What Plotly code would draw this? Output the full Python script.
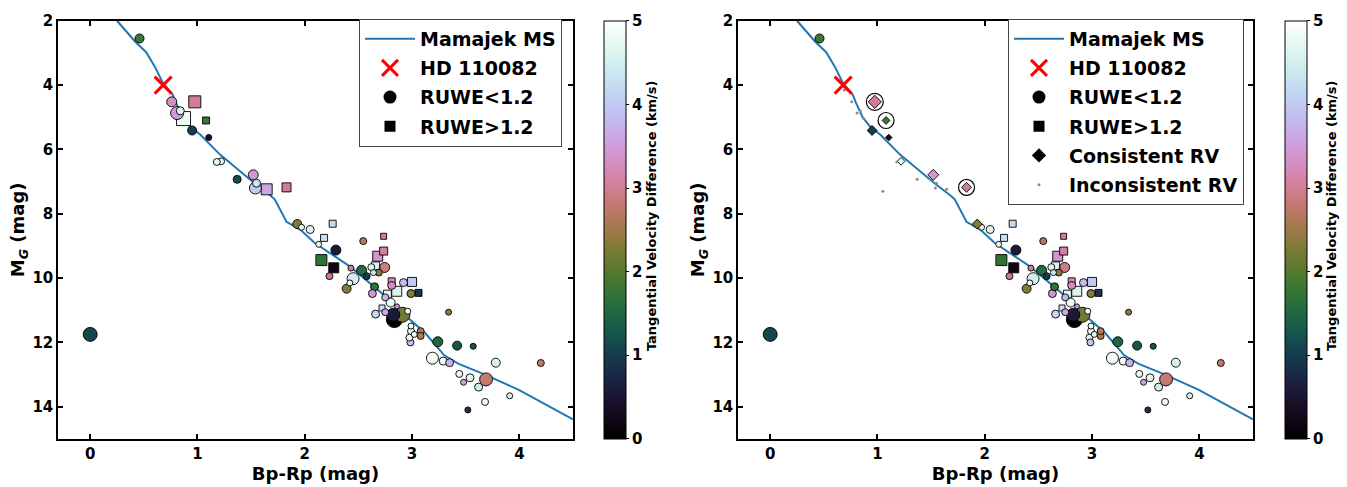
import numpy as np
import plotly.graph_objects as go

# ---------------- data ----------------
# Mamajek main sequence
ms_bp_rp = [0.25, 0.42, 0.52, 0.60, 0.68, 0.77, 0.80, 0.86, 0.93, 1.03, 1.21, 1.37, 1.52, 1.68,
            1.72, 1.83, 1.96, 2.09, 2.43, 2.74, 2.93, 3.12, 3.30, 3.43, 3.68, 3.99, 4.50]
ms_mg = [2.00, 2.65, 2.97, 3.41, 3.95, 4.30, 4.55, 4.99, 5.29, 5.55, 6.16, 6.61, 7.02, 7.43,
         7.55, 8.25, 8.50, 8.90, 9.66, 10.53, 11.14, 11.70, 12.40, 12.66, 13.00, 13.47, 14.39]

# HD 110082
hd_bp_rp = [0.68]
hd_mg = [4.00]

# comoving candidates
bp_rp = [0.46, 0.76, 0.975, 0.81, 0.84, 0.87, 1.08, 0.95, 1.105, 1.18,
         1.22, 1.37, 1.52, 1.54, 1.55, 1.645, 1.83, 1.93, 1.97, 2.05,
         2.26, 2.18, 2.13, 2.29, 2.545, 2.735, 2.68, 2.735, 2.155, 2.27,
         2.43, 2.23, 2.53, 2.577, 2.62, 2.66, 2.69, 2.64, 2.745, 2.45,
         2.42, 2.39, 2.65, 2.63, 2.81, 2.81, 2.92, 3.00, 2.77, 2.857,
         2.99, 3.06, 2.75, 2.80, 2.86, 2.72, 2.66, 2.75, 2.835, 2.825,
         2.91, 2.96, 3.34, 2.99, 2.99, 3.02, 2.975, 3.08, 3.08, 2.985,
         3.24, 3.42, 3.57, 3.19, 3.29, 3.35, 3.78, 3.44, 3.54, 3.48,
         3.69, 3.62, 3.68, 3.52, 4.20, 3.91, 0.00]
m_g = [2.55, 4.52, 4.52, 4.87, 4.80, 5.04, 5.10, 5.41, 5.63, 6.39,
       6.37, 6.93, 6.79, 7.20, 7.05, 7.24, 7.18, 8.32, 8.42, 8.49,
       8.31, 8.75, 8.95, 9.13, 8.85, 8.70, 9.32, 9.16, 9.44, 9.68,
       9.69, 9.94, 9.76, 9.94, 9.66, 9.62, 9.83, 9.83, 9.67, 10.02,
       10.15, 10.33, 10.27, 10.48, 10.10, 10.23, 10.14, 10.12, 10.50, 10.41,
       10.48, 10.46, 10.60, 10.76, 10.88, 10.93, 11.12, 11.06, 11.29, 11.14,
       11.14, 11.03, 11.06, 11.49, 11.65, 11.75, 11.85, 11.65, 11.80, 12.00,
       11.98, 12.10, 12.12, 12.49, 12.58, 12.63, 12.63, 12.98, 13.10, 13.24,
       13.15, 13.39, 13.85, 14.10, 12.64, 13.66, 11.75]
dv_tan = [1.8, 3.3, 3.0, 3.5, 4.6, 4.8, 1.8, 1.0, 0.4, 4.7,
          4.7, 1.2, 3.4, 4.0, 4.4, 3.6, 3.0, 2.3, 4.8, 4.7,
          4.2, 4.3, 4.8, 0.6, 2.7, 3.0, 3.4, 3.1, 1.7, 0.2,
          3.0, 2.9, 1.6, 1.0, 4.6, 4.6, 2.3, 4.4, 2.9, 4.5,
          4.9, 2.3, 1.7, 3.4, 3.2, 3.3, 3.8, 4.0, 4.7, 4.6,
          2.3, 0.9, 3.8, 4.8, 3.4, 4.3, 4.1, 3.6, 0.0, 0.6,
          2.2, 4.9, 2.4, 4.8, 4.7, 4.8, 4.7, 2.6, 2.6, 3.9,
          1.5, 1.3, 1.2, 4.9, 4.9, 3.7, 4.6, 4.8, 4.7, 3.6,
          2.8, 4.5, 4.9, 0.9, 2.8, 4.6, 1.1]
ruwe_high = [0, 0, 1, 0, 0, 1, 1, 0, 0, 0,
             0, 0, 0, 0, 0, 1, 1, 0, 0, 0,
             1, 1, 0, 0, 0, 1, 1, 1, 1, 1,
             0, 0, 0, 0, 0, 1, 0, 0, 0, 0,
             0, 0, 0, 0, 1, 0, 0, 1, 1, 1,
             0, 1, 0, 0, 0, 1, 0, 0, 0, 0,
             0, 0, 0, 0, 0, 0, 0, 0, 0, 0,
             0, 0, 0, 0, 0, 0, 0, 0, 0, 0,
             0, 0, 0, 0, 0, 0, 0]
rv_flag = ['', 'bad', 'good', 'bad', 'bad', 'bad', 'good', 'good', 'good', 'bad',
           'good', 'bad', 'good', 'bad', 'bad', 'bad', 'good', 'good'] + [''] * 69
weight = [9, 10, 12, 13, 8, 14, 7, 9, 6, 7,
          7, 8, 10, 12, 8, 11, 9, 9, 6, 8,
          7, 7, 6, 10, 7, 6, 10, 8, 11, 10,
          6, 7, 10, 7, 7, 8, 7, 6, 10, 12,
          6, 9, 8, 8, 7, 8, 8, 9, 8, 10,
          8, 7, 7, 9, 5, 6, 8, 7, 16, 13,
          15, 6, 6, 6, 7, 6, 7, 7, 7, 7,
          10, 9, 6, 12, 8, 8, 9, 7, 8, 6,
          13, 8, 7, 6, 7, 6, 14]

# extra inconsistent-RV points only seen in right panel
extra_bad_bp_rp = [0.69, 1.05]
extra_bad_mg = [4.15, 7.30]

# ---------------- styling ----------------
W, H = 1347, 487
FONT = "DejaVu Sans"


def fx(px):
    return px / W


def fy(py):
    return 1 - py / H


def cubehelix(n=41, gamma=1.0, s=0.5, r=-1.5, h=1.0):
    out = []
    for i in range(n):
        x = i / (n - 1)
        xg = x ** gamma
        a = h * xg * (1 - xg) / 2
        phi = 2 * np.pi * (s / 3 + r * x)
        R = xg + a * (-0.14861 * np.cos(phi) + 1.78277 * np.sin(phi))
        G = xg + a * (-0.29227 * np.cos(phi) - 0.90649 * np.sin(phi))
        B = xg + a * (1.97294 * np.cos(phi))
        R, G, B = [int(round(255 * min(1, max(0, v)))) for v in (R, G, B)]
        out.append([x, f"rgb({R},{G},{B})"])
    return out


CS = cubehelix()

fig = go.Figure()

bp = np.array(bp_rp)
mg = np.array(m_g)
dv = np.array(dv_tan)
rh = np.array(ruwe_high)
rv = np.array(rv_flag)
wt = np.array(weight, dtype=float)

edge = dict(color="black", width=0.9)

for panel in (1, 2):
    xa = "x" if panel == 1 else "x2"
    ya = "y" if panel == 1 else "y2"
    cax = "coloraxis" if panel == 1 else "coloraxis2"
    # main sequence
    fig.add_trace(go.Scatter(x=ms_bp_rp, y=ms_mg, mode="lines", line=dict(color="#1f77b4", width=2),
                             xaxis=xa, yaxis=ya, showlegend=False, hoverinfo="skip"))
    if panel == 1:
        sel_c = (rh == 0)
        sel_s = (rh == 1)
    else:
        sel_c = (rh == 0) & (rv == "")
        sel_s = (rh == 1) & (rv == "")
    for sel, sym in ((sel_s, "square"), (sel_c, "circle")):
        order = np.argsort(-wt[sel])
        fig.add_trace(go.Scatter(
            x=bp[sel][order], y=mg[sel][order], mode="markers", xaxis=xa, yaxis=ya, showlegend=False,
            marker=dict(symbol=sym, size=wt[sel][order], color=dv[sel][order], coloraxis=cax,
                        line=edge, opacity=1)))
    if panel == 2:
        good = rv == "good"
        bad = rv == "bad"
        ring = good & (rh == 1)
        fig.add_trace(go.Scatter(
            x=bp[ring], y=mg[ring], mode="markers", xaxis=xa, yaxis=ya, showlegend=False,
            marker=dict(symbol="circle-open", size=np.maximum(wt[ring] + 5, 16), color="black",
                        opacity=1, line=dict(color="black", width=1.2))))
        fig.add_trace(go.Scatter(
            x=bp[good], y=mg[good], mode="markers", xaxis=xa, yaxis=ya, showlegend=False,
            marker=dict(symbol="diamond", size=wt[good] * 0.85, color=dv[good], coloraxis=cax,
                        line=edge, opacity=1)))
        fig.add_trace(go.Scatter(
            x=list(bp[bad]) + extra_bad_bp_rp, y=list(mg[bad]) + extra_bad_mg, mode="markers",
            xaxis=xa, yaxis=ya, showlegend=False,
            marker=dict(symbol="circle", size=3, color="#8c8c8c", opacity=1)))
    # HD 110082
    fig.add_trace(go.Scatter(x=hd_bp_rp, y=hd_mg, mode="markers", xaxis=xa, yaxis=ya, showlegend=False,
                             marker=dict(symbol="x-thin", size=17, line=dict(color="red", width=3))))

    # legend entries
    leg = "legend" if panel == 1 else "legend2"
    entries = [
        ("Mamajek MS", dict(mode="lines", line=dict(color="#1f77b4", width=2))),
        ("HD 110082", dict(mode="markers", marker=dict(symbol="x-thin", size=16, line=dict(color="red", width=3)))),
        ("RUWE<1.2", dict(mode="markers", marker=dict(symbol="circle", size=13, color="black"))),
        ("RUWE>1.2", dict(mode="markers", marker=dict(symbol="square", size=11, color="black"))),
    ]
    if panel == 2:
        entries += [
            ("Consistent RV", dict(mode="markers", marker=dict(symbol="diamond", size=11, color="black"))),
            ("Inconsistent RV", dict(mode="markers", marker=dict(symbol="circle", size=3, color="#8c8c8c"))),
        ]
    for k, (name, kw) in enumerate(entries):
        fig.add_trace(go.Scatter(x=[None], y=[None], name="<b>%s</b>" % name, xaxis=xa, yaxis=ya,
                                 legend=leg, legendgroup="%s%d" % (leg, k), showlegend=True, **kw))

axis_common = dict(showline=True, linecolor="black", linewidth=1.5, mirror="allticks", ticks="inside",
                   ticklen=5, tickwidth=1.5, tickcolor="black", showgrid=False, zeroline=False,
                   tickfont=dict(family=FONT, size=15, color="black", weight="bold"))
xcommon = dict(axis_common, range=[-0.3, 4.5], tickvals=[0, 1, 2, 3, 4],
               title=dict(text="<b>Bp-Rp (mag)</b>", font=dict(family=FONT, size=18, color="black"), standoff=1))
ycommon = dict(axis_common, range=[15, 2], tickvals=[2, 4, 6, 8, 10, 12, 14],
               title=dict(text="<b>M<sub><i>G</i></sub> (mag)</b>", font=dict(family=FONT, size=18, color="black"), standoff=3))


def cbar(xpx):
    return dict(x=fx(xpx), xanchor="left", y=fy(225), yanchor="middle", len=426 / H, lenmode="fraction",
                thickness=22, thicknessmode="pixels", xpad=0, ypad=0, outlinewidth=1, outlinecolor="black",
                tickvals=[0, 1, 2, 3, 4, 5], ticks="outside", ticklen=3, tickcolor="black",
                tickfont=dict(family=FONT, size=15, color="black", weight="bold"))


legend_common = dict(bordercolor="#444444", borderwidth=1, bgcolor="white", yanchor="top", xanchor="right",
                     font=dict(family=FONT, size=19, color="black"), tracegroupgap=1.5, itemwidth=50)

cb_title = "<b>Tangential Velocity Difference (km/s)</b>"
fig.update_layout(
    width=W, height=H, margin=dict(l=0, r=0, t=0, b=0),
    paper_bgcolor="white", plot_bgcolor="white",
    xaxis=dict(xcommon, domain=[fx(58), fx(573)], anchor="y"),
    yaxis=dict(ycommon, domain=[fy(438), fy(12)], anchor="x"),
    xaxis2=dict(xcommon, domain=[fx(738), fx(1253)], anchor="y2"),
    yaxis2=dict(ycommon, domain=[fy(438), fy(12)], anchor="x2"),
    coloraxis=dict(colorscale=CS, cmin=0, cmax=5, colorbar=cbar(604)),
    coloraxis2=dict(colorscale=CS, cmin=0, cmax=5, colorbar=cbar(1285)),
    legend=dict(legend_common, x=fx(562), y=fy(10)),
    legend2=dict(legend_common, x=fx(1244), y=fy(10)),
    annotations=[
        dict(text=cb_title, x=fx(651), y=fy(211), xref="paper", yref="paper", xanchor="center",
             yanchor="middle", showarrow=False, textangle=-90, font=dict(family=FONT, size=13, color="black")),
        dict(text=cb_title, x=fx(1331), y=fy(211), xref="paper", yref="paper", xanchor="center",
             yanchor="middle", showarrow=False, textangle=-90, font=dict(family=FONT, size=13, color="black")),
    ],
)

fig.write_html("out.html")
